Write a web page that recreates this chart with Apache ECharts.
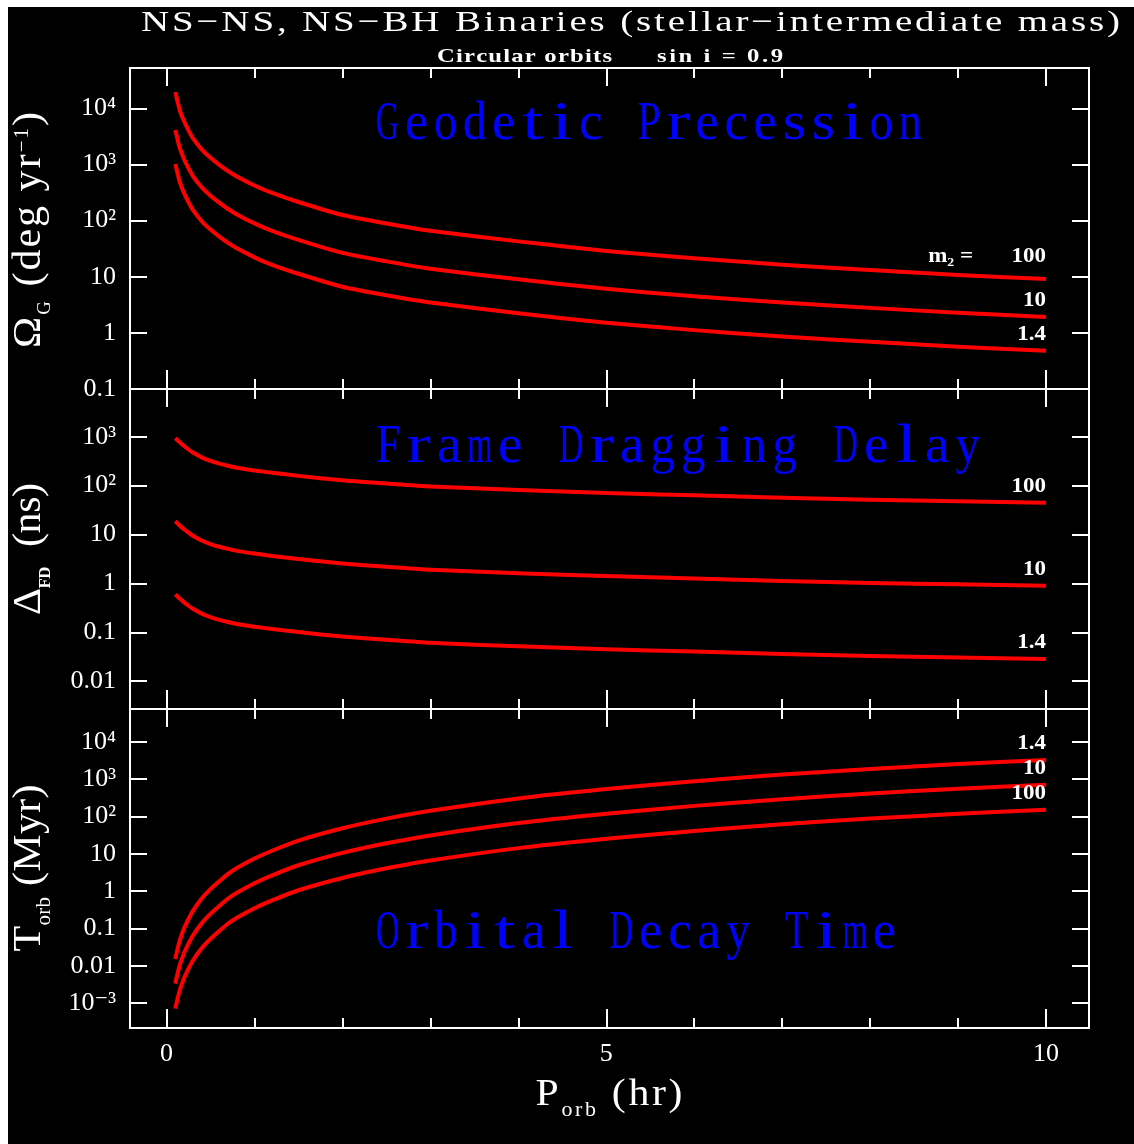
<!DOCTYPE html>
<html>
<head>
<meta charset="utf-8">
<script src="https://cdn.jsdelivr.net/npm/echarts@6/dist/echarts.min.js"></script>
<style>
  html, body { margin: 0; padding: 0; background: #000; }
  #chart { width: 1134px; height: 1144px; }
</style>
</head>
<body>
<div id="chart"></div>
<script>
// Orbital period grid (hours), shared by all three panels
const periodHours = [0.1, 0.12, 0.15, 0.2, 0.25, 0.3, 0.4, 0.5, 0.6, 0.7, 0.8, 1, 1.2, 1.5, 2, 2.5, 3, 4, 5, 6, 7, 8, 9, 10];

// Geodetic precession rate, deg/yr, for companion masses 100, 10, 1.4
const geodetic100 = [19500, 14450, 9330, 5890, 4070, 2950, 1860, 1320, 989, 764, 612, 422, 311, 215, 126, 89, 66, 42.7, 28.8, 21.3, 16.4, 13.2, 10.8, 9.1];
const geodetic10 = [4120, 3053, 1971, 1245, 860, 623, 393, 279, 209, 161, 129, 89.2, 65.7, 45.4, 26.6, 18.8, 13.9, 9.02, 6.09, 4.50, 3.47, 2.79, 2.28, 1.92];
const geodetic1p4 = [1024, 759, 490, 309, 214, 155, 97.7, 69.3, 51.9, 40.1, 32.1, 22.2, 16.3, 11.3, 6.62, 4.67, 3.47, 2.24, 1.51, 1.12, 0.861, 0.693, 0.567, 0.478];

// Frame dragging delay, ns
const dragDelay100 = [933, 865, 767, 643, 547, 473, 378, 320, 282, 254, 232, 204, 183, 158, 128, 110, 95.5, 81.3, 70.8, 63.1, 56.2, 51.3, 47.9, 44.7];
const dragDelay10 = [18.6, 17.3, 15.3, 12.8, 10.9, 9.44, 7.54, 6.38, 5.63, 5.07, 4.63, 4.07, 3.65, 3.15, 2.55, 2.19, 1.91, 1.62, 1.41, 1.26, 1.12, 1.02, 0.956, 0.892];
const dragDelay1p4 = [0.595, 0.552, 0.489, 0.410, 0.349, 0.302, 0.241, 0.204, 0.180, 0.162, 0.148, 0.130, 0.117, 0.101, 0.0817, 0.0702, 0.0609, 0.0519, 0.0452, 0.0403, 0.0359, 0.0327, 0.0306, 0.0285];

// Orbital decay time, Myr
const decay1p4 = [0.0151, 0.0245, 0.0468, 0.100, 0.178, 0.295, 0.631, 1.12, 1.82, 2.88, 4.12, 7.41, 12.0, 22.4, 47.9, 86.9, 141, 302, 537, 871, 1318, 1862, 2512, 3236];
const decay10 = [0.00330, 0.00536, 0.0102, 0.0219, 0.0389, 0.0645, 0.138, 0.245, 0.398, 0.630, 0.901, 1.62, 2.63, 4.90, 10.5, 19.0, 30.9, 66.1, 117, 191, 288, 407, 550, 708];
const decay100 = [0.000706, 0.00115, 0.00219, 0.00468, 0.00833, 0.0138, 0.0295, 0.0524, 0.0851, 0.135, 0.193, 0.347, 0.561, 1.05, 2.24, 4.06, 6.59, 14.1, 25.1, 40.7, 61.6, 87.1, 117, 151];

// Curve tags (companion mass m2, solar masses)
const massTags = ['100', '10', '1.4'];
const decayTags = ['1.4', '10', '100'];

// Tick labels
const yTickExponents = [-3, -2, -1, 0, 1, 2, 3, 4];
const yTickLabels = ['10⁻³', '0.01', '0.1', '1', '10', '10²', '10³', '10⁴'];
const xTickValues = [0, 5, 10];
const xTickLabels = ['0', '5', '10'];

// ---------------------------------------------------------------------------
const SERIF = '"Liberation Serif", "DejaVu Serif", serif';
const WHITE = '#ffffff';
const RED = '#ff0000';
const BLUE = '#0000ff';
const X_MIN = -0.415, X_MAX = 10.488;

const panels = [
  { top: 68, height: 321, minExp: -1, maxExp: 4.72,
    series: [geodetic100, geodetic10, geodetic1p4], tags: massTags },
  { top: 389, height: 320, minExp: -2.568, maxExp: 3.975,
    series: [dragDelay100, dragDelay10, dragDelay1p4], tags: massTags },
  { top: 709, height: 319, minExp: -3.669, maxExp: 4.876,
    series: [decay1p4, decay10, decay100], tags: decayTags }
];

function powerLabel(v) {
  const e = Math.log10(v);
  const r = Math.round(e);
  if (Math.abs(e - r) > 1e-6) return '';
  const i = yTickExponents.indexOf(r);
  return i >= 0 ? yTickLabels[i] : '';
}
function periodLabel(v) {
  const i = xTickValues.indexOf(Math.round(v * 1000) / 1000);
  return i >= 0 ? xTickLabels[i] : '';
}

// --- text helpers: glyph-by-glyph layout for widely tracked lettering ---
const measureCtx = document.createElement('canvas').getContext('2d');
function glyphWidth(ch, size, weight) {
  measureCtx.font = weight + ' ' + size + 'px ' + SERIF;
  return measureCtx.measureText(ch).width;
}
function glyph(ch, x, y, size, weight, color, rotation, scaleX) {
  return {
    type: 'text', x: x, y: y, rotation: rotation || 0, scaleX: scaleX || 1,
    silent: true, z: 20,
    style: {
      text: ch, fill: color, fontFamily: SERIF, fontSize: size, fontWeight: weight,
      align: 'center', verticalAlign: 'middle'
    }
  };
}
// Spread a run of pieces (main text, sub/superscripts) over `length` px around (cx, cy)
function spreadText(pieces, o) {
  const stretch = o.stretch || 1;
  const gl = [];
  pieces.forEach(function (p) {
    Array.from(p.text).forEach(function (ch) {
      const weight = p.weight || o.weight || 'normal';
      gl.push({ ch: ch, size: p.size, shift: p.shift || 0, weight: weight,
                w: glyphWidth(ch, p.size, weight) * stretch });
    });
  });
  const natural = gl.reduce(function (s, g) { return s + g.w; }, 0);
  const gap = gl.length > 1 ? (o.length - natural) / (gl.length - 1) : 0;
  let pos = -o.length / 2;
  gl.forEach(function (g) { g.c = pos + g.w / 2; pos += g.w + gap; });
  return gl.filter(function (g) { return g.ch !== ' '; }).map(function (g) {
    return o.vertical
      ? glyph(g.ch, o.cx + g.shift, o.cy - g.c, g.size, g.weight, o.color, Math.PI / 2, stretch)
      : glyph(g.ch, o.cx + g.c, o.cy + g.shift, g.size, g.weight, o.color, 0, stretch);
  });
}
// Fixed-pitch lettering between left and right
function monoText(str, o) {
  const chars = Array.from(str);
  const adv = (o.right - o.left) / chars.length;
  const out = [];
  chars.forEach(function (ch, i) {
    if (ch === ' ') return;
    const w = glyphWidth(ch, o.size, 'normal');
    const sx = Math.max(0.6, Math.min(1.4, adv * 0.8 / w));
    out.push(glyph(ch, o.left + adv * (i + 0.5), o.cy, o.size, 'normal', o.color, 0, sx));
  });
  return out;
}

// --- axes, grids, series ---
const grids = [], xAxes = [], yAxes = [], series = [];
const axisLine = { show: true, onZero: false, lineStyle: { color: WHITE, width: 2 } };

panels.forEach(function (pn, gi) {
  grids.push({ left: 130, right: 45, top: pn.top, height: pn.height, containLabel: false, outerBoundsMode: 'none' });

  // minor (1 h) and major (5 h) ticks, on the bottom and top edges
  [['bottom', 11, 10, true], ['bottom', 2, 19, false], ['top', 11, 10, true], ['top', 2, 18, false]]
    .forEach(function (d) {
      const showLabels = gi === panels.length - 1 && d[0] === 'bottom' && d[1] === 2;
      xAxes.push({
        gridIndex: gi, type: 'value', position: d[0], min: X_MIN, max: X_MAX, splitNumber: d[1],
        axisLine: d[3] ? axisLine : { show: false, onZero: false },
        axisTick: { show: true, inside: true, length: d[2], lineStyle: { color: WHITE, width: 2 } },
        axisLabel: {
          show: showLabels, formatter: periodLabel, color: WHITE, fontFamily: SERIF,
          fontSize: 26, margin: 13
        },
        splitLine: { show: false }
      });
    });

  ['left', 'right'].forEach(function (side) {
    yAxes.push({
      gridIndex: gi, type: 'log', logBase: 10, position: side,
      min: Math.pow(10, pn.minExp), max: Math.pow(10, pn.maxExp),
      axisLine: axisLine,
      axisTick: { show: true, inside: true, length: 17, lineStyle: { color: WHITE, width: 2 } },
      axisLabel: {
        show: side === 'left', formatter: powerLabel, color: WHITE, fontFamily: SERIF,
        fontSize: 26, margin: 14
      },
      splitLine: { show: false },
      minorTick: { show: false }
    });
  });

  pn.series.forEach(function (vals, k) {
    series.push({
      type: 'line', name: pn.tags[k], xAxisIndex: gi * 4, yAxisIndex: gi * 2,
      data: periodHours.map(function (p, i) { return [p, vals[i]]; }),
      symbol: 'none', showSymbol: false, smooth: 0.2,
      lineStyle: { color: RED, width: 4, join: 'round', cap: 'butt' }, silent: true, z: 5
    });
  });
});

// --- lettering ---
let texts = [
  { type: 'rect', shape: { x: 0, y: 0, width: 1134, height: 7 }, style: { fill: WHITE }, silent: true, z: 30 },
  { type: 'rect', shape: { x: 0, y: 0, width: 8, height: 1144 }, style: { fill: WHITE }, silent: true, z: 30 }
];
texts = texts.concat(
  spreadText([{ text: 'NS−NS, NS−BH Binaries (stellar−intermediate mass)', size: 30 }],
    { cx: 630.5, cy: 23, length: 979, color: WHITE, stretch: 1.3 }),
  spreadText([{ text: 'Circular orbits', size: 19, weight: 'bold' }],
    { cx: 524.5, cy: 57, length: 175, color: WHITE, stretch: 1.3 }),
  spreadText([{ text: 'sin i = 0.9', size: 19, weight: 'bold' }],
    { cx: 720, cy: 57, length: 126, color: WHITE, stretch: 1.3 }),
  monoText('Geodetic Precession', { left: 373, right: 925, cy: 125, size: 54, color: BLUE }),
  monoText('Frame Dragging Delay', { left: 373, right: 983, cy: 448, size: 54, color: BLUE }),
  monoText('Orbital Decay Time', { left: 373, right: 899, cy: 934, size: 54, color: BLUE }),
  spreadText([
    { text: 'Ω', size: 40 }, { text: 'G', size: 18, shift: 16 },
    { text: ' (deg yr', size: 40 }, { text: '−1', size: 20, shift: -6 }, { text: ')', size: 40 }
  ], { cx: 29, cy: 230, length: 236, vertical: true, color: WHITE, stretch: 1.05 }),
  spreadText([
    { text: 'Δ', size: 40 }, { text: 'FD', size: 16, shift: 17, weight: 'bold' },
    { text: '  (ns)', size: 40 }
  ], { cx: 29, cy: 549, length: 132, vertical: true, color: WHITE, stretch: 1.05 }),
  spreadText([
    { text: 'T', size: 40 }, { text: 'orb', size: 20, shift: 16 },
    { text: ' (Myr)', size: 40 }
  ], { cx: 29, cy: 868, length: 167, vertical: true, color: WHITE, stretch: 1.05 }),
  spreadText([
    { text: 'P', size: 38 }, { text: 'orb', size: 20, shift: 16 },
    { text: ' (hr)', size: 38 }
  ], { cx: 609, cy: 1095, length: 147, color: WHITE, stretch: 1.1 })
);

const chart = echarts.init(document.getElementById('chart'), null, { renderer: 'canvas' });
chart.setOption({
  backgroundColor: '#000000',
  animation: false,
  grid: grids,
  xAxis: xAxes,
  yAxis: yAxes,
  series: series,
  graphic: { elements: texts }
});

// Curve tags placed just above each curve's last point
const tagStyle = { fill: WHITE, fontFamily: SERIF, fontSize: 20, fontWeight: 'bold', align: 'right', verticalAlign: 'middle' };
const tags = [];
series.forEach(function (s, si) {
  const last = s.data[s.data.length - 1];
  const p = chart.convertToPixel({ seriesIndex: si }, last);
  const lift = si === 0 ? 22 : 16;
  tags.push({ type: 'text', x: p[0], y: p[1] - lift, silent: true, z: 20, scaleX: 1.15,
              style: Object.assign({ text: s.name }, tagStyle) });
  if (si === 0) {
    tags.push({ type: 'text', x: p[0] - 73, y: p[1] - lift, silent: true, z: 20, scaleX: 1.15,
                style: Object.assign({ text: 'm₂ =' }, tagStyle) });
  }
});
chart.setOption({ graphic: { elements: texts.concat(tags) } });
</script>
</body>
</html>
